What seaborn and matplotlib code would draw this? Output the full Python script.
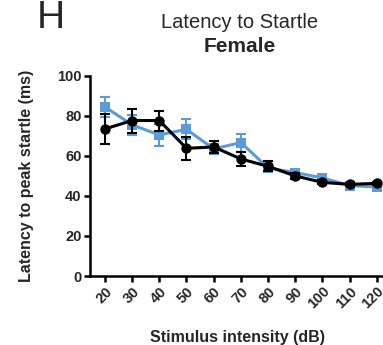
import matplotlib
matplotlib.use("Agg")
import matplotlib.pyplot as plt
import seaborn as sns
import pandas as pd

sns.set_theme(style="ticks")
plt.rcParams['font.family'] = ['Liberation Sans', 'DejaVu Sans']

# data
intensity = [20, 30, 40, 50, 60, 70, 80, 90, 100, 110, 120]
blue_mean = [84.5, 75.5, 70.5, 73.3, 63.5, 66.7, 54.0, 51.7, 49.0, 45.2, 44.5]
blue_sem = [5.0, 5.0, 5.5, 5.0, 2.5, 4.5, 2.0, 1.5, 1.2, 1.0, 1.0]
black_mean = [73.5, 77.7, 77.7, 63.8, 64.5, 58.5, 54.8, 50.0, 46.8, 45.8, 46.3]
black_sem = [7.5, 6.0, 5.0, 5.8, 3.0, 3.3, 2.5, 1.5, 1.0, 0.8, 0.8]

blue = '#5B9BD8'

df = pd.DataFrame({
    'dB': intensity * 2,
    'latency': blue_mean + black_mean,
    'group': ['blue'] * len(intensity) + ['black'] * len(intensity),
})

fig = plt.figure(figsize=(3.83, 3.45), dpi=100)
ax = fig.add_axes([0.235, 0.2, 0.77, 0.58])

ax.errorbar(intensity, blue_mean, yerr=blue_sem, fmt='none', ecolor=blue,
            elinewidth=1.5, capsize=3.5, capthick=1.5, zorder=2)
sns.lineplot(data=df[df.group == 'blue'], x='dB', y='latency', color=blue,
             marker='s', markersize=7.5, markeredgewidth=0, linewidth=2.2,
             ax=ax, zorder=3)
ax.errorbar(intensity, black_mean, yerr=black_sem, fmt='none', ecolor='black',
            elinewidth=1.5, capsize=3.5, capthick=1.5, zorder=4)
sns.lineplot(data=df[df.group == 'black'], x='dB', y='latency', color='black',
             marker='o', markersize=7.5, markeredgewidth=0, linewidth=2.2,
             ax=ax, zorder=5)

ax.set_xlim(14.5, 123)
ax.set_ylim(0, 100)
ax.set_yticks([0, 20, 40, 60, 80, 100])
ax.set_xticks(intensity)
ax.set_xticklabels([str(v) for v in intensity], rotation=45, ha='right',
                   rotation_mode='anchor', fontweight='bold', fontsize=10.5)
for lab in ax.get_yticklabels():
    lab.set_fontweight('bold')
    lab.set_fontsize(10.5)
ax.tick_params(axis='both', width=1.8, length=4, color='black', pad=2)
for s in ['left', 'bottom']:
    ax.spines[s].set_linewidth(1.8)
    ax.spines[s].set_color('black')
ax.spines['top'].set_visible(False)
ax.spines['right'].set_visible(False)

ax.set_xlabel('Stimulus intensity (dB)', fontweight='bold', fontsize=11.5, labelpad=13)
ax.set_ylabel('Latency to peak startle (ms)', fontweight='bold', fontsize=11.5, labelpad=17)

fig.text(0.625, 0.936, 'Latency to Startle', ha='center', va='center', fontsize=14.5)
fig.text(0.625, 0.864, 'Female', ha='center', va='center', fontsize=15, fontweight='bold')
fig.text(0.133, 0.919, 'H', ha='center', va='baseline', fontsize=28)

fig.savefig('out.png', dpi=100)
